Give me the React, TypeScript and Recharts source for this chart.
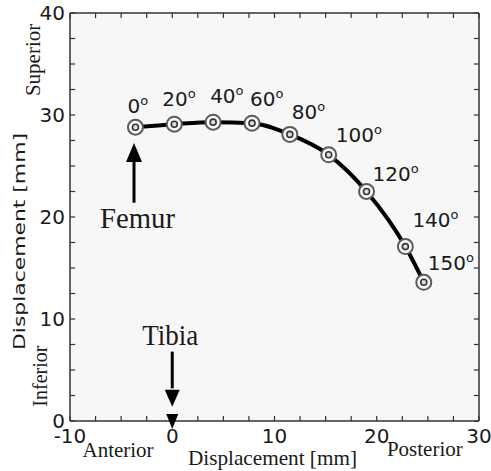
import React from "react";
import {
  LineChart,
  Line,
  XAxis,
  YAxis,
  LabelList,
  ReferenceLine,
  ReferenceDot,
  ReferenceArea,
} from "recharts";

// knee flexion angle (deg) and femur contact displacement (mm)
const ANGLES = [0, 20, 40, 60, 80, 100, 120, 140, 150];
const AP_DISP = [-3.6, 0.2, 4.0, 7.8, 11.5, 15.3, 19.0, 22.8, 24.6];
const SI_DISP = [28.8, 29.1, 29.3, 29.2, 28.1, 26.1, 22.5, 17.1, 13.6];

const X_TICKS = [-10, -7.5, -5, -2.5, 0, 2.5, 5, 7.5, 10, 12.5, 15, 17.5, 20, 22.5, 25, 27.5, 30];
const Y_TICKS = [0, 2.5, 5, 7.5, 10, 12.5, 15, 17.5, 20, 22.5, 25, 27.5, 30, 32.5, 35, 37.5, 40];

const data = ANGLES.map((a, i) => ({ angle: a, x: AP_DISP[i], y: SI_DISP[i] }));

// where each angle label sits relative to its point (px)
const LABEL_OFFSETS = [
  [-8, -14],
  [-12, -18],
  [-3, -19],
  [-2, -17],
  [2, -15],
  [7, -13],
  [6, -11],
  [7, -20],
  [4, -12],
];

const SANS = "'DejaVu Sans', sans-serif";
const SERIF = "'Liberation Serif', 'Times New Roman', serif";
const INK = "#1a1a1a";
const TICK_LEN = 0.5; // inward tick length, in axis units

const majorOnly = (v: number) => (v % 10 === 0 ? String(v) : "");

function Marker(props: any) {
  const { cx, cy } = props;
  if (cx == null || cy == null) return null;
  return (
    <g>
      <circle cx={cx} cy={cy} r={7.5} fill="#fafafa" stroke="#5a5a5a" strokeWidth={2} />
      <circle cx={cx} cy={cy} r={3} fill="#ddd" stroke="#333" strokeWidth={1.6} />
    </g>
  );
}

function AngleLabel(props: any) {
  const { x, y, value, index } = props;
  const [dx, dy] = LABEL_OFFSETS[index] ?? [0, -14];
  return (
    <text x={x + dx} y={y + dy} fontFamily={SANS} fontSize={20} fill={INK}>
      {value}
      <tspan fontSize={13} dy={-8}>o</tspan>
    </text>
  );
}

const arrowHead = (dir: "up" | "down", w: number, h: number) => (props: any) => {
  const { cx, cy } = props;
  const base = dir === "up" ? cy + h : cy - h;
  return (
    <polygon
      points={`${cx},${cy} ${cx - w / 2},${base} ${cx + w / 2},${base}`}
      fill="#000"
    />
  );
};

const tibiaMark = (props: any) => {
  const { cx, cy } = props;
  return (
    <polygon
      points={`${cx - 6},${cy - 7} ${cx + 6},${cy - 7} ${cx},${cy + 8}`}
      fill="#000"
    />
  );
};

const textAt = (txt: string) => (props: any) => {
  const { cx, cy } = props;
  return (
    <text
      x={cx}
      y={cy}
      textAnchor="middle"
      fontFamily={SERIF}
      fontSize={30}
      fill={INK}
      textLength={txt === "Femur" ? 75 : 56}
      lengthAdjust="spacingAndGlyphs"
    >
      {txt}
    </text>
  );
};

function XLabels(props: any) {
  const vb = props.viewBox ?? { x: 70, y: 421, width: 409, height: 50 };
  const px = (v: number) => vb.x + ((v + 10) / 40) * vb.width;
  return (
    <g fontFamily={SERIF} fill={INK} fontSize={21}>
      <text x={px(-5.3)} y={vb.y + 36} textAnchor="middle">Anterior</text>
      <text
        x={px(9.8)}
        y={vb.y + 44}
        textAnchor="middle"
        textLength={169}
        lengthAdjust="spacingAndGlyphs"
      >
        Displacement [mm]
      </text>
      <text x={px(24.7)} y={vb.y + 35} textAnchor="middle">Posterior</text>
    </g>
  );
}

function YLabels(props: any) {
  const vb = props.viewBox ?? { x: 0, y: 13, width: 70, height: 408 };
  const py = (v: number) => vb.y + ((40 - v) / 40) * vb.height;
  const rot = (x: number, y: number) => `rotate(-90, ${x}, ${y})`;
  return (
    <g fill={INK}>
      <text
        x={40}
        y={py(35.4)}
        transform={rot(40, py(35.4))}
        textAnchor="middle"
        fontFamily={SERIF}
        fontSize={21}
      >
        Superior
      </text>
      <text
        x={25}
        y={py(17.6)}
        transform={rot(25, py(17.6))}
        textAnchor="middle"
        fontFamily={SANS}
        fontSize={16}
        textLength={217}
        lengthAdjust="spacingAndGlyphs"
      >
        Displacement [mm]
      </text>
      <text
        x={47}
        y={py(4.4)}
        transform={rot(47, py(4.4))}
        textAnchor="middle"
        fontFamily={SERIF}
        fontSize={20}
      >
        Inferior
      </text>
    </g>
  );
}

const axisLine = { stroke: "#333", strokeWidth: 1.5 };
const tickFont = { fontFamily: SANS, fontSize: 20, fill: INK };
const tickStyle = { stroke: "#333", strokeWidth: 1.2, ifOverflow: "visible" as const };

export default function App() {
  return (
    <div style={{ position: "absolute", left: 0, top: 0, background: "#fff" }}>
      <LineChart
        width={491}
        height={471}
        data={data}
        margin={{ top: 0, right: 0, bottom: 0, left: 0 }}
      >
        <ReferenceArea
          x1={-10}
          x2={30}
          y1={0}
          y2={40}
          fill="#f7f7f7"
          fillOpacity={1}
          stroke="none"
        />
        <XAxis
          type="number"
          dataKey="x"
          domain={[-10, 30]}
          ticks={X_TICKS}
          interval={0}
          tickFormatter={majorOnly}
          tickLine={false}
          tickSize={0}
          tickMargin={8}
          height={50}
          axisLine={axisLine}
          tick={tickFont}
          allowDataOverflow
          label={{ content: (p: any) => <XLabels {...p} /> }}
        />
        <XAxis
          xAxisId="top"
          orientation="top"
          type="number"
          domain={[-10, 30]}
          tick={false}
          tickLine={false}
          height={13}
          axisLine={axisLine}
          allowDataOverflow
        />
        <YAxis
          type="number"
          dataKey="y"
          domain={[0, 40]}
          ticks={Y_TICKS}
          interval={0}
          tickFormatter={majorOnly}
          tickLine={false}
          tickSize={0}
          tickMargin={5}
          width={70}
          axisLine={axisLine}
          tick={tickFont}
          allowDataOverflow
          label={{ content: (p: any) => <YLabels {...p} /> }}
        />
        <YAxis
          yAxisId="right"
          orientation="right"
          type="number"
          domain={[0, 40]}
          tick={false}
          tickLine={false}
          width={12}
          axisLine={axisLine}
          allowDataOverflow
        />

        {/* inward tick marks on all four sides */}
        {X_TICKS.map((t) => (
          <ReferenceLine
            key={`b${t}`}
            segment={[
              { x: t, y: 0 },
              { x: t, y: TICK_LEN },
            ]}
            {...tickStyle}
          />
        ))}
        {X_TICKS.map((t) => (
          <ReferenceLine
            key={`t${t}`}
            segment={[
              { x: t, y: 40 },
              { x: t, y: 40 - TICK_LEN },
            ]}
            {...tickStyle}
          />
        ))}
        {Y_TICKS.map((t) => (
          <ReferenceLine
            key={`l${t}`}
            segment={[
              { x: -10, y: t },
              { x: -10 + TICK_LEN, y: t },
            ]}
            {...tickStyle}
          />
        ))}
        {Y_TICKS.map((t) => (
          <ReferenceLine
            key={`r${t}`}
            segment={[
              { x: 30, y: t },
              { x: 30 - TICK_LEN, y: t },
            ]}
            {...tickStyle}
          />
        ))}

        {/* Femur arrow */}
        <ReferenceLine
          segment={[
            { x: -3.74, y: 21.4 },
            { x: -3.74, y: 25.6 },
          ]}
          stroke="#000"
          strokeWidth={3}
          ifOverflow="visible"
        />
        <ReferenceDot x={-3.74} y={27.25} ifOverflow="visible" shape={arrowHead("up", 16, 19)} />
        <ReferenceDot x={-3.4} y={18.9} ifOverflow="visible" shape={textAt("Femur")} />

        {/* Tibia arrow */}
        <ReferenceLine
          segment={[
            { x: 0, y: 6.8 },
            { x: 0, y: 3.2 },
          ]}
          stroke="#000"
          strokeWidth={3}
          ifOverflow="visible"
        />
        <ReferenceDot x={0} y={1.4} ifOverflow="visible" shape={arrowHead("down", 15, 17)} />
        <ReferenceDot x={-0.2} y={7.5} ifOverflow="visible" shape={textAt("Tibia")} />
        <ReferenceDot x={0} y={0} ifOverflow="visible" shape={tibiaMark} />

        <Line
          type="monotone"
          dataKey="y"
          stroke="#000"
          strokeWidth={4}
          dot={<Marker />}
          activeDot={false}
          isAnimationActive={false}
        >
          <LabelList dataKey="angle" content={(p: any) => <AngleLabel {...p} />} />
        </Line>
      </LineChart>
    </div>
  );
}
